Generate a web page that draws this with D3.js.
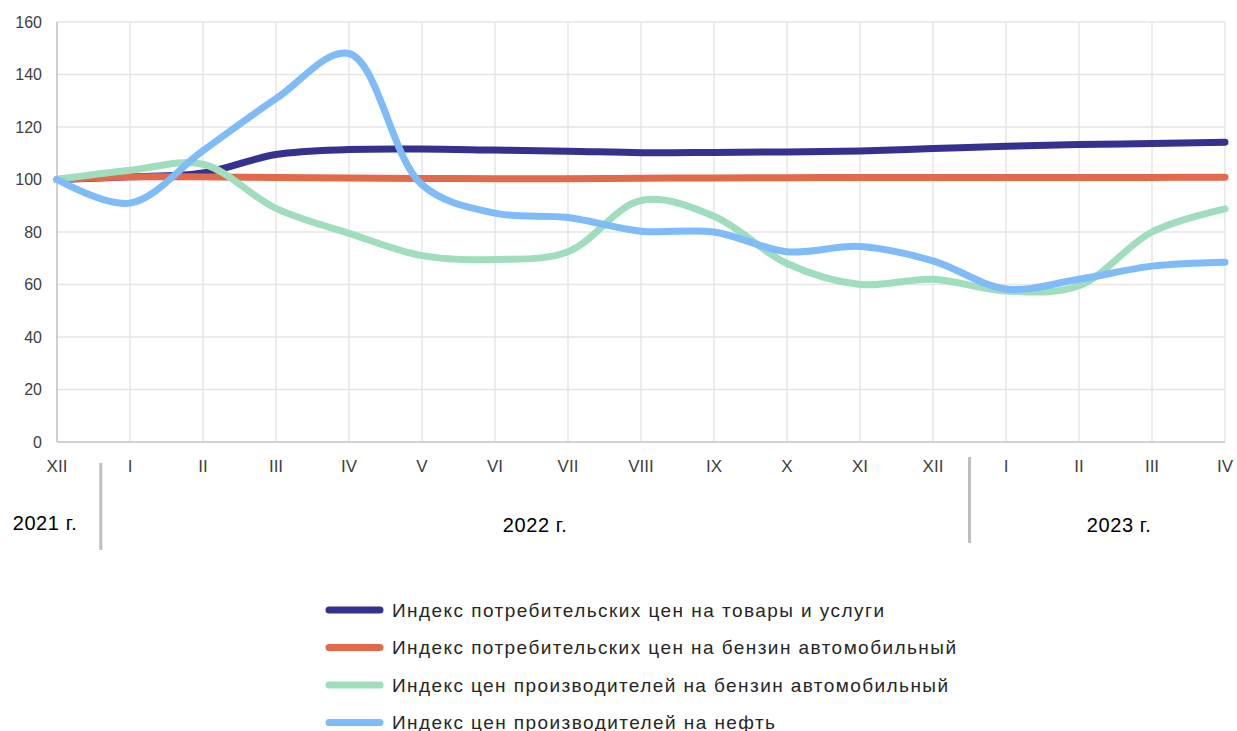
<!DOCTYPE html>
<html>
<head>
<meta charset="utf-8">
<script src="https://cdn.jsdelivr.net/npm/d3@7"></script>
<style>
  body { margin: 0; background: #fff; }
  svg { font-family: "Liberation Sans", Arial, sans-serif; }
</style>
</head>
<body>
<svg width="1237" height="731"></svg>
<script>
// months along the axis (XII 2021 .. IV 2023)
var months = ["XII", "I", "II", "III", "IV", "V", "VI", "VII", "VIII", "IX", "X", "XI", "XII", "I", "II", "III", "IV"];
var yTicks = [0, 20, 40, 60, 80, 100, 120, 140, 160];

var cpiAll = [100, 101.0, 102.5, 109.5, 111.4, 111.6, 111.2, 110.8, 110.2, 110.3, 110.5, 110.9, 111.8, 112.7, 113.3, 113.7, 114.2];
var cpiPetrol = [100, 101.0, 101.0, 100.8, 100.6, 100.4, 100.3, 100.3, 100.5, 100.6, 100.7, 100.8, 100.8, 100.8, 100.8, 100.8, 100.9];
var ppiPetrol = [100, 103.5, 105.8, 89, 79.5, 71, 69.5, 72.5, 92, 86, 68, 60, 62, 57.5, 59.5, 80, 88.8];
var ppiOil = [100, 91, 111, 130.8, 148, 98, 87.2, 85.5, 80.3, 80, 72.5, 74.5, 69, 58.3, 62, 67, 68.5];

var seriesNames = [
  "Индекс потребительских цен на товары и услуги",
  "Индекс потребительских цен на бензин автомобильный",
  "Индекс цен производителей на бензин автомобильный",
  "Индекс цен производителей на нефть"
];
var colors = ["#35318f", "#e2694a", "#a0ddbc", "#7fbaf9"];
var legendWidths = [492, 564, 556, 383];

var years = [
  {label: "2021 г.", from: -0.6, to: 0.6},
  {label: "2022 г.", from: 0.6, to: 12.5},
  {label: "2023 г.", from: 12.5, to: 16.6}
];

var svg = d3.select("svg"),
    margin = {top: 22, right: 12, bottom: 289, left: 57},
    width = +svg.attr("width") - margin.left - margin.right,
    height = +svg.attr("height") - margin.top - margin.bottom;

var x = d3.scaleLinear().domain([0, months.length - 1]).range([0, width]),
    y = d3.scaleLinear().domain([0, 160]).range([height, 0]);

var g = svg.append("g")
    .attr("transform", "translate(" + margin.left + "," + margin.top + ")");

// grid
g.append("g").selectAll("line")
    .data(yTicks)
  .enter().append("line")
    .attr("x1", 0).attr("x2", width)
    .attr("y1", function(d) { return y(d); })
    .attr("y2", function(d) { return y(d); })
    .attr("stroke", "#e6e6e6")
    .attr("stroke-width", 1.5);

g.append("g").selectAll("line")
    .data(months.map(function(m, i) { return i; }).slice(1))
  .enter().append("line")
    .attr("x1", function(d) { return x(d); })
    .attr("x2", function(d) { return x(d); })
    .attr("y1", 0).attr("y2", height)
    .attr("stroke", "#e6e6e6")
    .attr("stroke-width", 1.5);

// axis lines
g.append("line")
    .attr("x1", 0).attr("x2", 0).attr("y1", 0).attr("y2", height)
    .attr("stroke", "#bfbfbf").attr("stroke-width", 1.5);
g.append("line")
    .attr("x1", 0).attr("x2", width).attr("y1", height).attr("y2", height)
    .attr("stroke", "#c8c8c8").attr("stroke-width", 1.5);

// y labels
g.append("g").selectAll("text")
    .data(yTicks)
  .enter().append("text")
    .attr("x", -15)
    .attr("y", function(d) { return y(d); })
    .attr("dy", "0.35em")
    .attr("text-anchor", "end")
    .attr("font-size", "16px")
    .attr("fill", "#404040")
    .text(function(d) { return d; });

// x labels
g.append("g").selectAll("text")
    .data(months)
  .enter().append("text")
    .attr("x", function(d, i) { return x(i); })
    .attr("y", height + 30)
    .attr("text-anchor", "middle")
    .attr("font-size", "17px")
    .attr("fill", "#404040")
    .text(function(d) { return d; });

// year separators
g.append("line")
    .attr("x1", x(0.6)).attr("x2", x(0.6))
    .attr("y1", height + 21).attr("y2", height + 108)
    .attr("stroke", "#bfbfbf").attr("stroke-width", 3);
g.append("line")
    .attr("x1", x(12.5)).attr("x2", x(12.5))
    .attr("y1", height + 15).attr("y2", height + 101)
    .attr("stroke", "#bfbfbf").attr("stroke-width", 3);

g.append("g").selectAll("text")
    .data(years)
  .enter().append("text")
    .attr("x", function(d, i) { return i === 0 ? -12 : x((d.from + d.to) / 2); })
    .attr("y", function(d, i) { return height + (i === 0 ? 88 : 90); })
    .attr("text-anchor", "middle")
    .attr("font-size", "20px")
    .attr("letter-spacing", "0.6px")
    .attr("fill", "#000")
    .text(function(d) { return d.label; });

// lines
var data = [cpiAll, cpiPetrol, ppiPetrol, ppiOil];
var line = d3.line()
    .x(function(d, i) { return x(i); })
    .y(function(d) { return y(d); })
    .curve(d3.curveCatmullRom.alpha(0.5));

g.append("g").selectAll("path")
    .data(data)
  .enter().append("path")
    .attr("d", line)
    .attr("fill", "none")
    .attr("stroke", function(d, i) { return colors[i]; })
    .attr("stroke-width", 7)
    .attr("stroke-linecap", "round")
    .attr("stroke-linejoin", "round");

// legend
var legend = svg.append("g")
    .attr("transform", "translate(326,610)");

var items = legend.selectAll("g")
    .data(seriesNames)
  .enter().append("g")
    .attr("transform", function(d, i) { return "translate(0," + (i * 37.5) + ")"; });

items.append("line")
    .attr("x1", 3).attr("x2", 54)
    .attr("stroke", function(d, i) { return colors[i]; })
    .attr("stroke-width", 7)
    .attr("stroke-linecap", "round");

items.append("text")
    .attr("x", 66)
    .attr("dy", "0.35em")
    .attr("font-size", "19px")
    .attr("fill", "#262626")
    .attr("textLength", function(d, i) { return legendWidths[i]; })
    .attr("lengthAdjust", "spacing")
    .text(function(d) { return d; });
</script>
</body>
</html>
